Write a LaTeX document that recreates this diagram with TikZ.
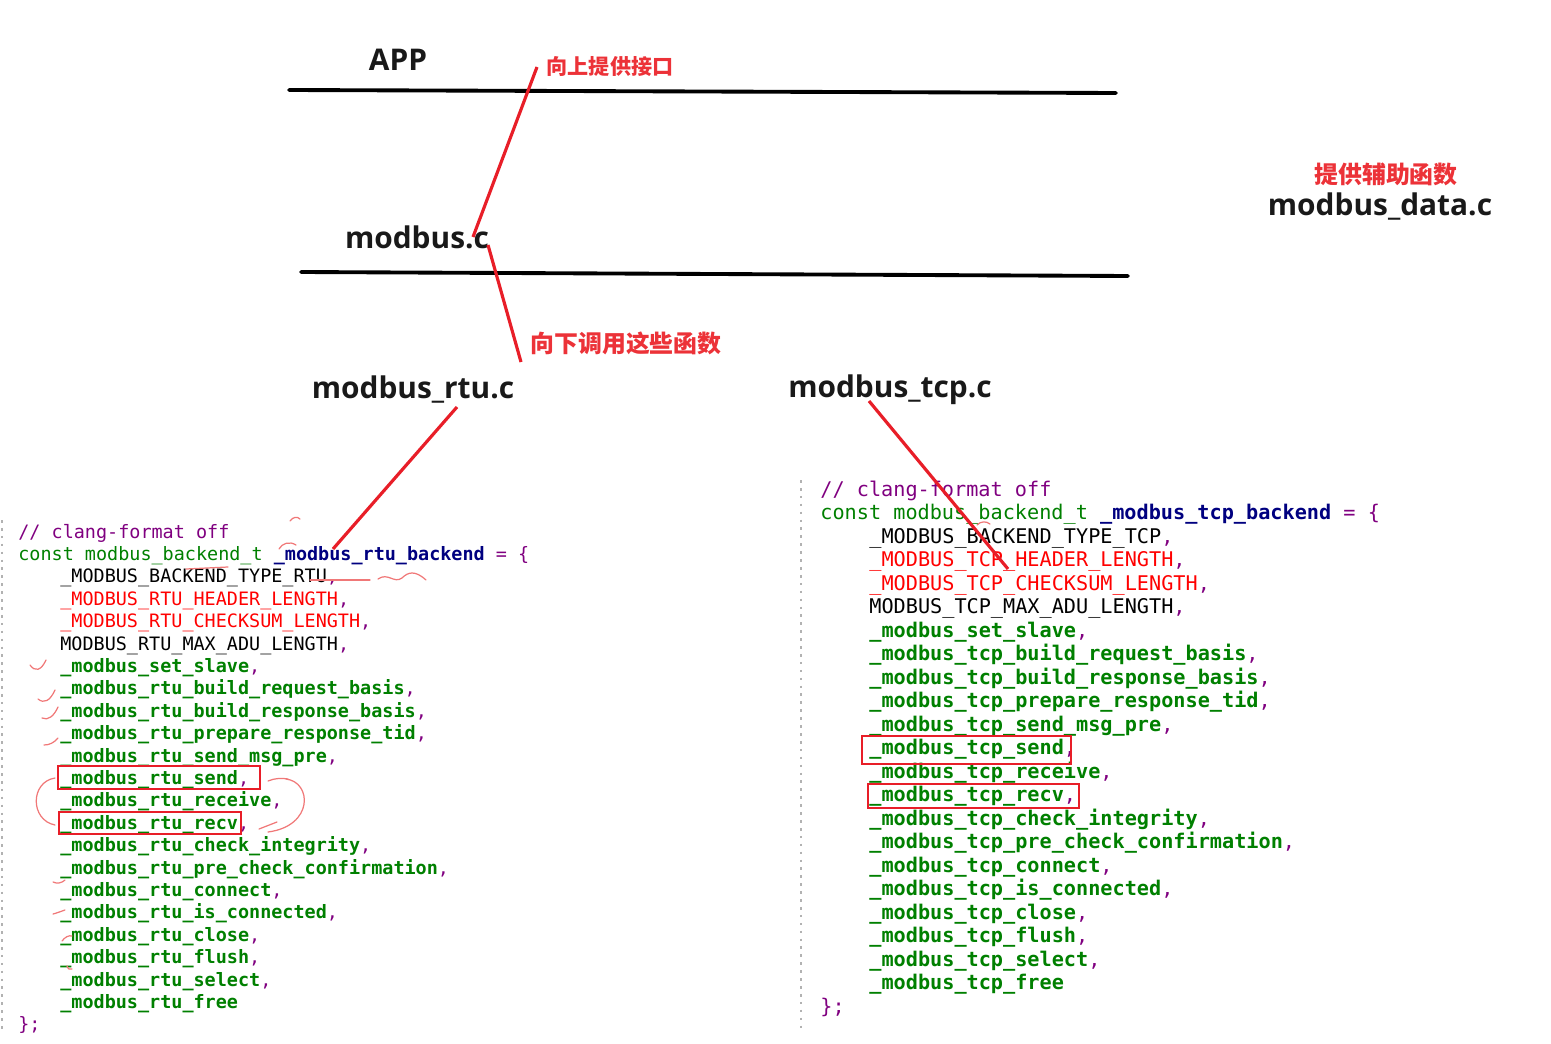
\documentclass[tikz,border=0pt]{standalone}
\usepackage{fontspec}
\setmainfont{Open Sans}
\newfontfamily\codefont{DejaVu Sans Mono}
\newfontfamily\cjk{Noto Sans CJK SC}
\usetikzlibrary{positioning}

\definecolor{codegreen}{RGB}{0,128,0}
\definecolor{codepurple}{RGB}{128,0,128}
\definecolor{codeblue}{RGB}{0,0,128}
\definecolor{codered}{RGB}{255,0,0}
\definecolor{markred}{RGB}{232,30,40}
\definecolor{labelred}{RGB}{236,50,56}
\definecolor{scrib}{RGB}{240,120,120}

% pieces of highlighted source
\newcommand{\cfn}[1]{\textcolor{codegreen}{\bfseries #1}}
\newcommand{\ckw}[1]{\textcolor{codegreen}{#1}}
\newcommand{\cpur}[1]{\textcolor{codepurple}{#1}}
\newcommand{\cblu}[1]{\textcolor{codeblue}{\bfseries #1}}
\newcommand{\cred}[1]{\textcolor{codered}{#1}}

\tikzset{
  title/.style={anchor=base, inner sep=0pt, font=\fontsize{17}{20}\selectfont\bfseries, text=black!90},
  note/.style={anchor=base, inner sep=0pt, font=\cjk\fontsize{13.6}{16}\selectfont\bfseries, text=labelred},
  codeL/.style={anchor=west, inner sep=0pt, text height=0.9em, text depth=0.1em, font=\codefont\fontsize{10.5}{12}\selectfont},
  codeR/.style={anchor=west, inner sep=0pt, text height=0.9em, text depth=0.1em, font=\codefont\fontsize{11.5}{13}\selectfont},
  layer/.style={line width=2.2pt, line cap=round},
  markline/.style={draw=markred, line width=1.8pt},
  redbox/.style={draw=markred, line width=1pt},
  scribble/.style={draw=scrib, line width=0.7pt, line cap=round},
  gutter/.style={draw=black!30, line width=1.2pt, dash pattern=on 1.5pt off 3pt}
}

\begin{document}
\begin{tikzpicture}[x=0.02cm, y=-0.02cm]
\useasboundingbox (0,0) rectangle (1551,1044);

% layers
\node[title] (app) at (398,71) {APP};
\node[title] (modc) at (417,249) {modbus.c};
\node[title] (rtuc) at (413,398) {modbus\_rtu.c};
\node[title] (tcpc) at (890,397) {modbus\_tcp.c};
\node[title] (datac) at (1380,215) {modbus\_data.c};
\node[note, font=\cjk\fontsize{12}{14}\selectfont\bfseries] (up) at (610,75) {向上提供接口};
\node[note] (down) at (626,352) {向下调用这些函数};
\node[note] (aux) at (1386,184) {提供辅助函数};

\draw[layer] (289,90) -- (1116,93);
\draw[layer] (301,272) -- (1128,276);

% rtu backend
\draw[gutter] (2,520) -- (2,1032);
\node[codeL] (rtu1) at (18,531) {\cpur{// clang-format off}};
\node[codeL] (rtu2) at (18,553.4) {\ckw{const modbus\_backend\_t} \cblu{\_modbus\_rtu\_backend} \cpur{= \{}};
\node[codeL] (rtu3) at (60,575.8) {\_MODBUS\_BACKEND\_TYPE\_RTU\cpur{,}};
\node[codeL] (rtu4) at (60,598.2) {\cred{\_MODBUS\_RTU\_HEADER\_LENGTH}\cpur{,}};
\node[codeL] (rtu5) at (60,620.6) {\cred{\_MODBUS\_RTU\_CHECKSUM\_LENGTH}\cpur{,}};
\node[codeL] (rtu6) at (60,643) {MODBUS\_RTU\_MAX\_ADU\_LENGTH\cpur{,}};
\node[codeL] (rtu7) at (60,665.4) {\cfn{\_modbus\_set\_slave}\cpur{,}};
\node[codeL] (rtu8) at (60,687.8) {\cfn{\_modbus\_rtu\_build\_request\_basis}\cpur{,}};
\node[codeL] (rtu9) at (60,710.2) {\cfn{\_modbus\_rtu\_build\_response\_basis}\cpur{,}};
\node[codeL] (rtu10) at (60,732.6) {\cfn{\_modbus\_rtu\_prepare\_response\_tid}\cpur{,}};
\node[codeL] (rtu11) at (60,755) {\cfn{\_modbus\_rtu\_send\_msg\_pre}\cpur{,}};
\node[codeL] (rtu12) at (60,777.4) {\cfn{\_modbus\_rtu\_send}\cpur{,}};
\node[codeL] (rtu13) at (60,799.8) {\cfn{\_modbus\_rtu\_receive}\cpur{,}};
\node[codeL] (rtu14) at (60,822.2) {\cfn{\_modbus\_rtu\_recv}\cpur{,}};
\node[codeL] (rtu15) at (60,844.6) {\cfn{\_modbus\_rtu\_check\_integrity}\cpur{,}};
\node[codeL] (rtu16) at (60,867) {\cfn{\_modbus\_rtu\_pre\_check\_confirmation}\cpur{,}};
\node[codeL] (rtu17) at (60,889.4) {\cfn{\_modbus\_rtu\_connect}\cpur{,}};
\node[codeL] (rtu18) at (60,911.8) {\cfn{\_modbus\_rtu\_is\_connected}\cpur{,}};
\node[codeL] (rtu19) at (60,934.2) {\cfn{\_modbus\_rtu\_close}\cpur{,}};
\node[codeL] (rtu20) at (60,956.6) {\cfn{\_modbus\_rtu\_flush}\cpur{,}};
\node[codeL] (rtu21) at (60,979) {\cfn{\_modbus\_rtu\_select}\cpur{,}};
\node[codeL] (rtu22) at (60,1001.4) {\cfn{\_modbus\_rtu\_free}};
\node[codeL] (rtu23) at (18,1023.8) {\cpur{\};}};

% tcp backend
\draw[gutter] (801,480) -- (801,1030);
\node[codeR] (tcp1) at (820,489) {\cpur{// clang-format off}};
\node[codeR] (tcp2) at (820,512.5) {\ckw{const modbus\_backend\_t} \cblu{\_modbus\_tcp\_backend} \cpur{= \{}};
\node[codeR] (tcp3) at (869,536) {\_MODBUS\_BACKEND\_TYPE\_TCP\cpur{,}};
\node[codeR] (tcp4) at (869,559.5) {\cred{\_MODBUS\_TCP\_HEADER\_LENGTH}\cpur{,}};
\node[codeR] (tcp5) at (869,583) {\cred{\_MODBUS\_TCP\_CHECKSUM\_LENGTH}\cpur{,}};
\node[codeR] (tcp6) at (869,606.5) {MODBUS\_TCP\_MAX\_ADU\_LENGTH\cpur{,}};
\node[codeR] (tcp7) at (869,630) {\cfn{\_modbus\_set\_slave}\cpur{,}};
\node[codeR] (tcp8) at (869,653.5) {\cfn{\_modbus\_tcp\_build\_request\_basis}\cpur{,}};
\node[codeR] (tcp9) at (869,677) {\cfn{\_modbus\_tcp\_build\_response\_basis}\cpur{,}};
\node[codeR] (tcp10) at (869,700.5) {\cfn{\_modbus\_tcp\_prepare\_response\_tid}\cpur{,}};
\node[codeR] (tcp11) at (869,724) {\cfn{\_modbus\_tcp\_send\_msg\_pre}\cpur{,}};
\node[codeR] (tcp12) at (869,747.5) {\cfn{\_modbus\_tcp\_send}\cpur{,}};
\node[codeR] (tcp13) at (869,771) {\cfn{\_modbus\_tcp\_receive}\cpur{,}};
\node[codeR] (tcp14) at (869,794.5) {\cfn{\_modbus\_tcp\_recv}\cpur{,}};
\node[codeR] (tcp15) at (869,818) {\cfn{\_modbus\_tcp\_check\_integrity}\cpur{,}};
\node[codeR] (tcp16) at (869,841.5) {\cfn{\_modbus\_tcp\_pre\_check\_confirmation}\cpur{,}};
\node[codeR] (tcp17) at (869,865) {\cfn{\_modbus\_tcp\_connect}\cpur{,}};
\node[codeR] (tcp18) at (869,888.5) {\cfn{\_modbus\_tcp\_is\_connected}\cpur{,}};
\node[codeR] (tcp19) at (869,912) {\cfn{\_modbus\_tcp\_close}\cpur{,}};
\node[codeR] (tcp20) at (869,935.5) {\cfn{\_modbus\_tcp\_flush}\cpur{,}};
\node[codeR] (tcp21) at (869,959) {\cfn{\_modbus\_tcp\_select}\cpur{,}};
\node[codeR] (tcp22) at (869,982.5) {\cfn{\_modbus\_tcp\_free}};
\node[codeR] (tcp23) at (820,1006) {\cpur{\};}};

% red marks
\coordinate (upA) at (537,67);
\coordinate (upB) at (473,237);
\coordinate (dnA) at (488,245);
\coordinate (dnB) at (521,362);
\coordinate (rtuA) at (457,407);
\coordinate (rtuB) at (333,549);
\coordinate (tcpA) at (869,401);
\coordinate (tcpB) at (1008,569);
\draw[markline] (upA) -- (upB);
\draw[markline] (dnA) -- (dnB);
\draw[markline] (rtuA) -- (rtuB);
\draw[markline] (tcpA) -- (tcpB);

\draw[redbox] (58,766) rectangle (260,789);
\draw[redbox] (59,812) rectangle (241,834);
\draw[redbox] (862,736) rectangle (1071,764);
\draw[redbox] (868,784) rectangle (1079,808);

% hand scribbles
\draw[scribble] (30,665) .. controls (35,672) and (41,671) .. (46,660);
\draw[scribble] (38,699) .. controls (44,704) and (50,701) .. (55,690);
\draw[scribble] (42,718) .. controls (48,721) and (54,716) .. (58,707);
\draw[scribble] (44,745) .. controls (49,745) and (54,743) .. (58,738);
\draw[scribble] (290,521) .. controls (293,517) and (297,516) .. (300,519);
\draw[scribble] (279,549) .. controls (282,543) and (290,541) .. (296,545);
\draw[scribble] (186,569) -- (228,567);
\draw[scribble] (310,580) -- (370,580);
\draw[scribble] (378,579) .. controls (388,572) and (394,584) .. (402,578) .. controls (408,572) and (415,570) .. (426,580);
\draw[scribble] (55,778) .. controls (30,782) and (30,820) .. (55,825);
\draw[scribble] (268,781) .. controls (275,778) and (282,778) .. (288,779);
\draw[scribble] (286,779) .. controls (312,782) and (314,826) .. (268,832);
\draw[scribble] (277,822) -- (259,829);
\draw[scribble] (53,882) .. controls (57,884) and (62,883) .. (65,880);
\draw[scribble] (53,914) .. controls (57,913) and (62,911) .. (65,910);
\draw[scribble] (62,941) .. controls (65,937) and (69,935) .. (72,936);
\draw[scribble] (67,966) .. controls (68,969) and (70,970) .. (72,969);
\draw[scribble] (977,525) .. controls (981,521) and (986,521) .. (990,524);
\end{tikzpicture}
\end{document}
